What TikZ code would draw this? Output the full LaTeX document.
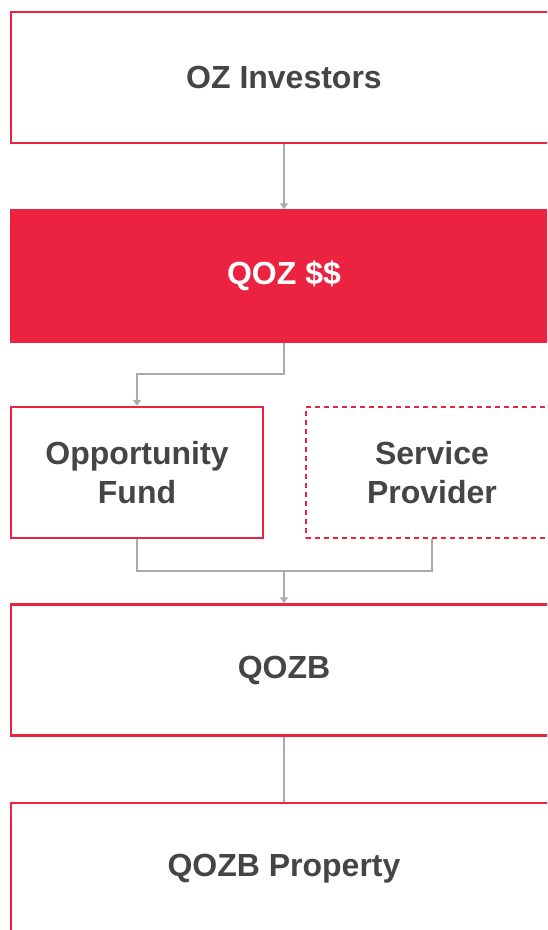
\documentclass[tikz,border=0pt]{standalone}
\usepackage{fontspec}
\setmainfont{Liberation Sans}
\usepackage{tikz}
\usetikzlibrary{positioning, arrows.meta}

\definecolor{ozred}{HTML}{EC2340}
\definecolor{txtgray}{HTML}{454547}
\definecolor{linegray}{HTML}{ABABAE}

\begin{document}
\begin{tikzpicture}[
  x=1pt, y=1pt,
  box/.style={draw=ozred, line width=2.5pt, rectangle, minimum width=546pt,
    minimum height=131pt, inner sep=0pt, text=txtgray, align=center,
    font=\bfseries\fontsize{32}{39}\selectfont},
  halfbox/.style={box, minimum width=252pt},
  link/.style={draw=linegray, line width=1.8pt},
  arrow/.style={link, -{Triangle[width=8pt,length=6pt]}}
]
\useasboundingbox (0,0) rectangle (547,-930);
\clip (0,0) rectangle (547,-930);

% Top: investors
\node[box] (investors) at (284,-77.5) {OZ Investors};

% Zone capital
\node[box, fill=ozred, text=white, below=65pt of investors] (qoz) {QOZ \$\$};

% Fund and provider side by side
\node[halfbox, below=63pt of qoz.south west, anchor=north west] (fund)
  {Opportunity\\Fund};
\node[halfbox, dashed, dash pattern=on 5pt off 4pt, line width=1.5pt,
  right=41pt of fund] (provider) {Service\\Provider};

% Business and property
\node[box, below=64pt of fund.south west, anchor=north west] (qozb) {QOZB};
\node[box, below=65pt of qozb] (property) {QOZB Property};

% Connectors
\coordinate (join) at ([yshift=32pt]qozb.north);
\draw[arrow] (investors.south) -- (qoz.north);
\draw[arrow] (qoz.south) |- ([yshift=32pt]fund.north) -- (fund.north);
\draw[link] (fund.south) |- (join) -| (provider.south);
\draw[arrow] (join) -- (qozb.north);
\draw[link] (qozb.south) -- (property.north);

\end{tikzpicture}
\end{document}
